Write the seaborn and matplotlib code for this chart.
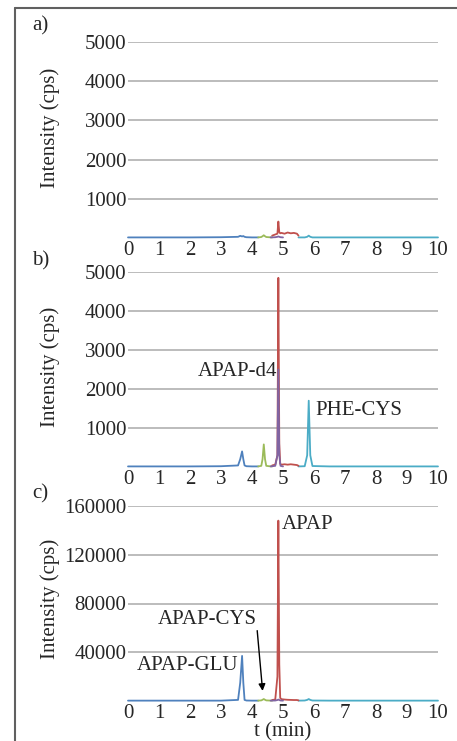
import matplotlib
matplotlib.use("Agg")
import matplotlib.pyplot as plt
from matplotlib.lines import Line2D
import seaborn as sns
import pandas as pd

# ---------------- data ----------------
trace_names = ["APAP-GLU", "APAP-CYS", "APAP", "APAP-d4", "PHE-CYS"]
trace_colors = ["#4F81BD", "#9BBB59", "#C0504D", "#8064A2", "#4BACC6"]

# time points (min) for each trace segment
t_glu = [0.0, 1.0, 2.0, 3.0, 3.55, 3.62, 3.68, 3.72, 3.76, 3.82, 4.0, 4.2]
t_cys = [4.2, 4.3, 4.34, 4.38, 4.42, 4.46, 4.55, 4.65]
t_apap = [4.65, 4.75, 4.82, 4.85, 4.88, 4.91, 4.95, 5.05, 5.15, 5.25, 5.35, 5.45, 5.5]
t_d4 = [4.6, 4.75, 4.82, 4.85, 4.88, 4.92, 5.0]
t_phe = [5.5, 5.7, 5.78, 5.83, 5.88, 5.95, 6.5, 8.0, 10.0]

# panel a) intensities (cps)
a_glu = [15, 15, 15, 20, 30, 55, 40, 50, 30, 20, 15, 15]
a_cys = [15, 25, 45, 70, 45, 25, 20, 15]
a_apap = [60, 90, 110, 420, 150, 120, 130, 110, 140, 120, 130, 110, 60]
a_d4 = [15, 20, 30, 40, 30, 20, 15]
a_phe = [15, 15, 30, 60, 30, 15, 15, 15, 15]

# panel b) intensities (cps)
b_glu = [15, 15, 15, 20, 40, 200, 400, 200, 40, 20, 15, 15]
b_cys = [15, 30, 200, 580, 200, 30, 20, 15]
b_apap = [40, 60, 300, 4850, 600, 80, 60, 70, 60, 70, 60, 50, 30]
b_d4 = [15, 30, 300, 2500, 300, 30, 15]
b_phe = [15, 20, 300, 1700, 300, 25, 15, 15, 15]

# panel c) intensities (cps)
c_glu = [300, 300, 300, 300, 900, 15000, 37000, 15000, 900, 400, 300, 300]
c_cys = [300, 500, 1000, 1600, 1000, 500, 400, 300]
c_apap = [800, 1200, 20000, 148000, 30000, 2500, 1500, 1200, 1000, 900, 800, 800, 500]
c_d4 = [300, 400, 800, 1200, 800, 400, 300]
c_phe = [300, 400, 900, 1600, 900, 400, 300, 300, 300]

panel_tags = ["a)", "b)", "c)"]
panel_ymax = [5000, 5000, 160000]
panel_yticks = [[1000, 2000, 3000, 4000, 5000],
                [1000, 2000, 3000, 4000, 5000],
                [40000, 80000, 120000, 160000]]
x_ticks = list(range(0, 11))

times = [t_glu, t_cys, t_apap, t_d4, t_phe]
panels = [
    [a_glu, a_cys, a_apap, a_d4, a_phe],
    [b_glu, b_cys, b_apap, b_d4, b_phe],
    [c_glu, c_cys, c_apap, c_d4, c_phe],
]

rows = []
for p, series in enumerate(panels):
    for name, tt, vv in zip(trace_names, times, series):
        for t, v in zip(tt, vv):
            rows.append({"panel": p, "trace": name, "t": t, "I": v})
df = pd.DataFrame(rows)

# ---------------- figure ----------------
sns.set_style("white")
plt.rcParams["font.family"] = ["Liberation Serif", "DejaVu Serif"]
FS = 15

fig = plt.figure(figsize=(4.57, 7.41), dpi=100)
W, H = 457.0, 741.0
L, R = 128 / W, 438 / W
boxes = [(42, 238), (272, 467), (506, 701)]
label_y = [0.56, 0.515, 0.526]
tag_y = [1.035, 1.01, 1.015]
palette = dict(zip(trace_names, trace_colors))

axes = []
for p, (top, bot) in enumerate(boxes):
    ax = fig.add_axes([L, 1 - bot / H, R - L, (bot - top) / H])
    axes.append(ax)
    sub = df[df.panel == p]
    order = ["APAP-GLU", "PHE-CYS", "APAP-CYS", "APAP", "APAP-d4"]
    for name in order:
        s = sub[sub.trace == name]
        sns.lineplot(data=s, x="t", y="I", color=palette[name], lw=1.3,
                     estimator=None, sort=False, ax=ax, legend=False, clip_on=False)
    ax.set_xlim(0, 10)
    ax.set_ylim(0, panel_ymax[p])
    ax.set_yticks(panel_yticks[p])
    ax.set_xticks(x_ticks)
    ax.yaxis.grid(True, color="#b0b0b0", lw=1.2)
    ax.set_axisbelow(True)
    for sp in ax.spines.values():
        sp.set_visible(False)
    ax.tick_params(axis="y", length=0, pad=1, labelsize=FS)
    ax.tick_params(axis="x", length=2, width=0.6, color="#808080", pad=0.5, labelsize=FS)
    ax.set_xlabel("")
    ax.set_ylabel("Intensity (cps)", fontsize=FS)
    ax.yaxis.set_label_coords(-0.219, label_y[p])
    ax.text(-0.31, tag_y[p], panel_tags[p], transform=ax.transAxes, fontsize=FS,
            ha="left", va="bottom")

axes[2].set_xlabel("t (min)", fontsize=FS, labelpad=-1)

# annotations
axes[1].text(4.8, 2440, "APAP-d4", ha="right", va="center", fontsize=FS)
axes[1].text(6.03, 1440, "PHE-CYS", ha="left", va="center", fontsize=FS)
axes[2].text(4.97, 145000, "APAP", ha="left", va="center", fontsize=FS)
axes[2].text(4.16, 66500, "APAP-CYS", ha="right", va="center", fontsize=FS)
axes[2].text(3.55, 29500, "APAP-GLU", ha="right", va="center", fontsize=FS)
axes[2].annotate("", xy=(4.35, 6000), xytext=(4.16, 60000),
                 arrowprops=dict(arrowstyle="-|>", color="black", lw=1.0,
                                 mutation_scale=10))

# frame lines (left and top)
fig.add_artist(Line2D([15 / W, 15 / W], [0, 1 - 8 / H], color="#606060", lw=1.5))
fig.add_artist(Line2D([15 / W, 1], [1 - 8 / H, 1 - 8 / H], color="#606060", lw=1.5))

fig.savefig("out.png", dpi=100)
